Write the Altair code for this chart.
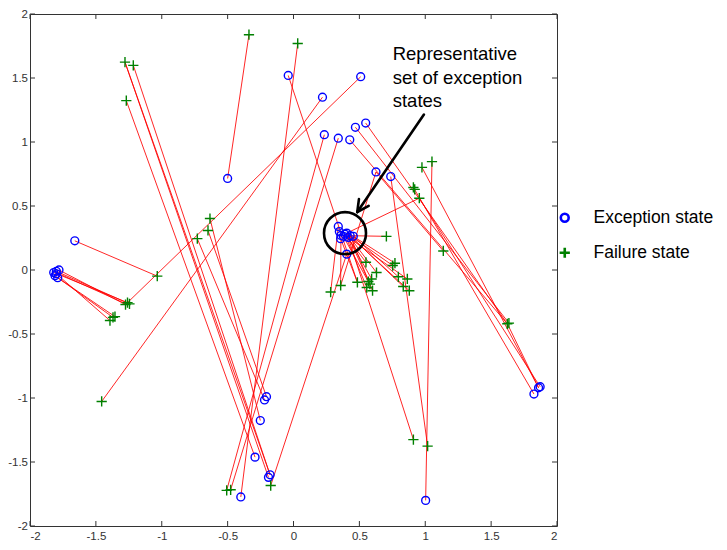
import altair as alt
import pandas as pd
import numpy as np

# ---------------- data ----------------
exc_x = [-1.82, -1.80, -1.78, -1.79, -1.80, -1.81, -1.66, -0.50, -0.04, 0.51,
         0.22, 0.234, 0.34, 0.427, 0.47, 0.548, 0.626, 0.738,
         0.34, 0.348, 0.358, 0.378, 0.404, 0.43, 0.454, 0.39, 0.415, 0.404, 0.36,
         -0.205, -0.22, -0.252, -0.292, -0.178, -0.19, -0.40, 1.003, 1.825, 1.86, 1.872]
exc_y = [-0.02, -0.01, 0.00, -0.06, -0.03, -0.045, 0.228, 0.715, 1.52, 1.51,
         1.35, 1.057, 1.03, 1.017, 1.115, 1.148, 0.766, 0.73,
         0.34, 0.30, 0.245, 0.263, 0.288, 0.268, 0.263, 0.28, 0.255, 0.124, 0.27,
         -0.99, -1.015, -1.176, -1.462, -1.60, -1.62, -1.773, -1.80, -0.969, -0.92, -0.912]

fail_x = [-0.338, 0.032, -1.279, -1.216, -1.269, -0.634, -0.649, -0.73, -1.034,
          -1.26, -1.245, -1.275, -1.355, -1.37, -1.393, -1.456, -0.507, -0.477, -0.173,
          0.975, 1.051, 0.91, 0.92, 0.955, 0.705, 1.137,
          0.282, 0.358, 0.485, 0.55, 0.753, 0.77, 0.63, 0.593, 0.568, 0.556, 0.60, 0.58,
          0.796, 0.864, 0.833, 0.879, 1.623, 1.635, 0.91, 1.018]
fail_y = [1.838, 1.77, 1.624, 1.599, 1.323, 0.402, 0.309, 0.245, -0.048,
          -0.255, -0.265, -0.27, -0.364, -0.37, -0.395, -1.027, -1.722, -1.717, -1.684,
          0.802, 0.847, 0.645, 0.63, 0.561, 0.263, 0.149,
          -0.172, -0.121, -0.096, 0.06, 0.035, 0.053, -0.02, -0.07, -0.09, -0.137, -0.162, -0.11,
          -0.053, -0.07, -0.129, -0.162, -0.42, -0.415, -1.325, -1.376]

seg_x1 = [-1.82, -1.80, -1.78, -1.79, -1.80, -1.81, -1.80, -1.66, 0.51, 0.22,
          -0.50, -1.279, -1.279, -1.216, -1.269, -0.634, -0.649, -0.73, 0.032, 0.234,
          0.34, 0.404, -0.04, 0.427, 0.47, 0.548, 0.626, 0.626, 0.738, 1.003,
          0.91, 0.975, 0.955, 0.404, 0.43, 0.415,
          0.34, 0.36, 0.39, 0.43, 0.454, 0.404, 0.415, 0.378, 0.39, 0.43, 0.404,
          0.454, 0.415, 0.43, 0.404, 0.358, 1.623]
seg_y1 = [-0.02, -0.01, 0.00, -0.06, -0.03, -0.045, -0.02, 0.228, 1.51, 1.35,
          0.715, 1.624, 1.624, 1.599, 1.323, 0.402, 0.309, 0.245, 1.77, 1.057,
          1.03, 0.124, 1.52, 1.017, 1.115, 1.148, 0.766, 0.766, 0.73, -1.80,
          0.645, 0.802, 0.561, 0.288, 0.268, 0.255,
          0.34, 0.27, 0.28, 0.268, 0.263, 0.288, 0.255, 0.263, 0.28, 0.268, 0.288,
          0.263, 0.255, 0.268, 0.288, 0.245, -0.42]
seg_x2 = [-1.26, -1.245, -1.275, -1.355, -1.393, -1.37, -1.26, -1.034, -1.275, -1.456,
          -0.338, -0.178, -0.19, -0.178, -0.292, -0.252, -0.205, -0.22, -0.40, -0.507,
          -0.477, -0.173, 0.485, 1.623, 1.635, 1.623, 0.358, 1.137, 1.018, 1.051,
          1.825, 1.86, 1.872, 0.955, 0.705, 0.91,
          0.282, 0.358, 0.55, 0.753, 0.77, 0.63, 0.593, 0.568, 0.556, 0.60, 0.58,
          0.796, 0.864, 0.833, 0.879, 0.485, 1.86]
seg_y2 = [-0.255, -0.265, -0.27, -0.364, -0.395, -0.37, -0.27, -0.048, -0.27, -1.027,
          1.838, -1.60, -1.62, -1.60, -1.462, -1.176, -0.99, -1.015, -1.773, -1.722,
          -1.717, -1.684, -0.096, -0.42, -0.415, -0.42, -0.121, 0.149, -1.376, 0.847,
          -0.969, -0.92, -0.912, 0.561, 0.263, -1.325,
          -0.172, -0.121, 0.06, 0.035, 0.053, -0.02, -0.07, -0.09, -0.137, -0.162, -0.11,
          -0.053, -0.07, -0.129, -0.162, -0.096, -0.92]

tick_values = [-2, -1.5, -1, -0.5, 0, 0.5, 1, 1.5, 2]
legend_names = ["Exception state", "Failure state"]
note_text = "Representative\nset of exception\nstates"
note_pos = [0.753, 1.64]
ring_pos = [0.391, 0.288]
arrow_start = [0.99, 1.214]
arrow_tip = [0.484, 0.453]

# ---------------- layout ----------------
W, H = 527, 512
FONT = "Liberation Sans"
kx, ky = W / 4.0, H / 4.0

xsc = alt.Scale(domain=[-2, 2], nice=False, zero=False)
ysc = alt.Scale(domain=[-2, 2], nice=False, zero=False)
xax = alt.Axis(values=tick_values, labelExpr="'' + datum.value", title=None)
yax = alt.Axis(values=tick_values, labelExpr="'' + datum.value", title=None)


def X(f):
    return alt.X(f, type="quantitative", scale=xsc, axis=xax)


def Y(f):
    return alt.Y(f, type="quantitative", scale=ysc, axis=yax)


seg_df = pd.DataFrame({"x": seg_x1, "y": seg_y1, "x2": seg_x2, "y2": seg_y2})
pts_df = pd.concat([
    pd.DataFrame({"x": exc_x, "y": exc_y, "kind": legend_names[0]}),
    pd.DataFrame({"x": fail_x, "y": fail_y, "kind": legend_names[1]}),
], ignore_index=True)

segments = alt.Chart(seg_df).mark_rule(color="#ff0000", strokeWidth=1, opacity=0.85).encode(
    x=X("x"), y=Y("y"), x2="x2", y2="y2")

points = alt.Chart(pts_df).mark_point(filled=False, strokeWidth=1.4, opacity=1).encode(
    x=X("x"), y=Y("y"),
    shape=alt.Shape("kind:N", scale=alt.Scale(domain=legend_names,
                                               range=["circle", "M-1,0H1M0,-1V1"]),
                    legend=alt.Legend(title=None)),
    color=alt.Color("kind:N", scale=alt.Scale(domain=legend_names, range=["#0000ff", "#008000"]),
                    legend=alt.Legend(title=None)),
    size=alt.Size("kind:N", scale=alt.Scale(domain=legend_names, range=[62, 105]), legend=None),
)

ring = alt.Chart(pd.DataFrame({"x": [ring_pos[0]], "y": [ring_pos[1]]})).mark_point(
    shape="circle", size=1764, filled=False, color="black", strokeWidth=2.6, opacity=1
).encode(x=X("x"), y=Y("y"))

# arrow: shaft plus two wings computed from the arrow direction
sx, sy = arrow_start
tx, ty = arrow_tip
dpx = np.array([(sx - tx) * kx, (sy - ty) * ky])
dpx = dpx / np.linalg.norm(dpx)
wing_len = 13.0
wings = []
for ang in (np.deg2rad(27), -np.deg2rad(27)):
    c, s = np.cos(ang), np.sin(ang)
    v = np.array([c * dpx[0] - s * dpx[1], s * dpx[0] + c * dpx[1]]) * wing_len
    wings.append((tx + v[0] / kx, ty + v[1] / ky))
arrow_df = pd.DataFrame({
    "x": [sx, tx, tx], "y": [sy, ty, ty],
    "x2": [tx, wings[0][0], wings[1][0]], "y2": [ty, wings[0][1], wings[1][1]],
})
arrow = alt.Chart(arrow_df).mark_rule(color="black", strokeWidth=2.6, strokeCap="round").encode(
    x=X("x"), y=Y("y"), x2="x2", y2="y2")

note = alt.Chart(pd.DataFrame({"x": [note_pos[0]], "y": [note_pos[1]], "t": [note_text]})).mark_text(
    align="left", baseline="alphabetic", font=FONT, fontSize=18.5, lineHeight=23.5,
    lineBreak="\n", color="black"
).encode(x=X("x"), y=Y("y"), text="t:N")

tick_df = pd.DataFrame({"t": tick_values})
TL = 5
tick_b = alt.Chart(tick_df).mark_rule(color="#333", strokeWidth=1).encode(
    x=X("t"), y=alt.value(H), y2=alt.value(H - TL))
tick_t = alt.Chart(tick_df).mark_rule(color="#333", strokeWidth=1).encode(
    x=X("t"), y=alt.value(0), y2=alt.value(TL))
tick_l = alt.Chart(tick_df).mark_rule(color="#333", strokeWidth=1).encode(
    y=Y("t"), x=alt.value(0), x2=alt.value(TL))
tick_r = alt.Chart(tick_df).mark_rule(color="#333", strokeWidth=1).encode(
    y=Y("t"), x=alt.value(W), x2=alt.value(W - TL))

chart = alt.layer(
    segments, points, ring, arrow, note, tick_b, tick_t, tick_l, tick_r
).properties(
    width=W, height=H,
    padding={"left": 22, "top": 6, "right": 162, "bottom": 16},
    autosize=alt.AutoSizeParams(type="none"),
    background="white",
).configure_view(
    stroke="#333", strokeWidth=1
).configure_axis(
    labelFont=FONT, labelFontSize=11.5, labelColor="#333", ticks=False, domain=False,
    grid=False
).configure_axisX(
    labelPadding=4
).configure_axisY(
    labelPadding=2.5
).configure_legend(
    orient="none", legendX=526, legendY=195, labelFont=FONT, labelFontSize=17.5,
    labelColor="black", symbolSize=110, symbolStrokeWidth=2.6, rowPadding=15,
    labelOffset=20, padding=0
)

chart.save("out.html", embed_options={"renderer": "svg", "actions": False})
